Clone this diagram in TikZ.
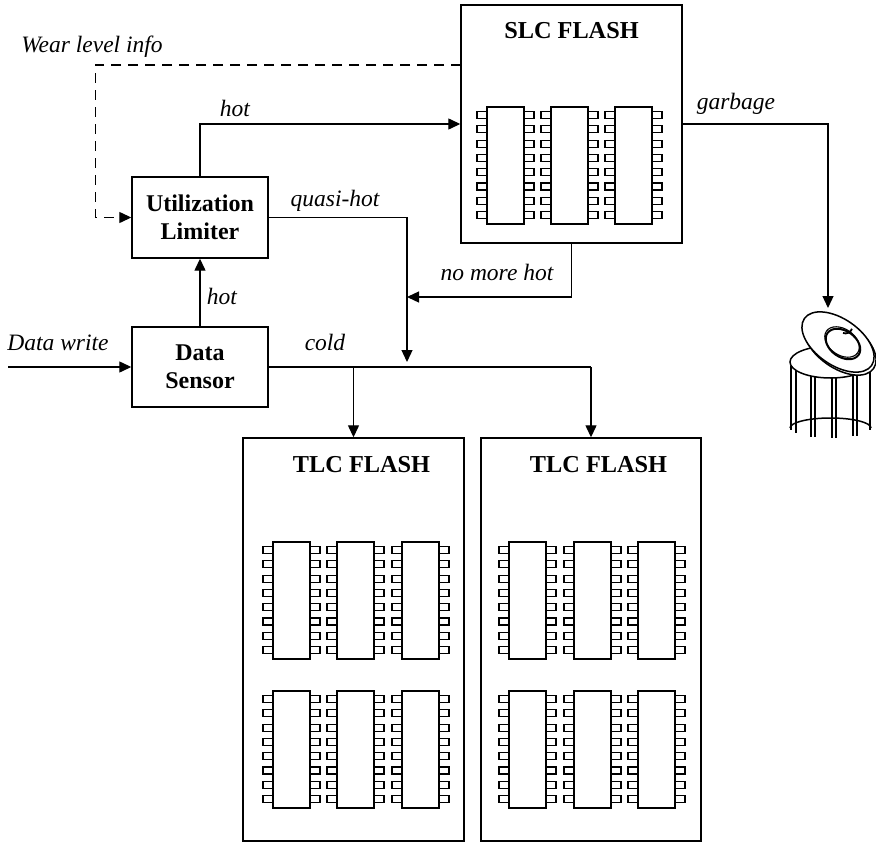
\documentclass[tikz,border=0pt]{standalone}
\usepackage{fontspec}
\setmainfont{Liberation Serif}
\usetikzlibrary{arrows.meta}
\usetikzlibrary{calc}

% one memory chip, #1,#2 = top left corner of its body
\newcommand{\chip}[2]{%
  \draw[chipbody] (#1,#2) rectangle ++(37,117);
  \foreach \k in {0,...,7} {
    \draw[chippin] ({#1-10},{#2+4.5+14.3*\k}) rectangle ++(10,7);
    \draw[chippin] ({#1+37},{#2+4.5+14.3*\k}) rectangle ++(10,7);
  }}

\begin{document}
\begin{tikzpicture}[x=1pt,y=-1pt,
    line width=1.3pt,
    flow/.style={-{Triangle[length=12pt,width=11pt]}},
    blk/.style={draw,line width=1.4pt,font=\fontsize{24}{28}\selectfont\bfseries,align=center,inner sep=0pt},
    flashbox/.style={draw,line width=1.4pt,inner sep=0pt},
    ttl/.style={font=\fontsize{24.3}{28}\selectfont\bfseries,anchor=base},
    lbl/.style={font=\fontsize{23.5}{28}\selectfont\itshape,anchor=base,inner sep=0pt},
    chipbody/.style={line width=1.4pt},
    chippin/.style={line width=1.2pt},
    bin/.style={line width=1.5pt}]
  \useasboundingbox (0,0) rectangle (876,843);

  % blocks
  \node[blk,minimum width=136pt,minimum height=81pt] (ul) at (200,217.5) {Utilization\\Limiter};
  \node[blk,minimum width=136pt,minimum height=80pt] (ds) at (200,367) {Data\\Sensor};
  \node[flashbox,minimum width=221pt,minimum height=238pt] (slc) at (571.5,124) {};
  \node[flashbox,minimum width=221pt,minimum height=403pt] (tlcL) at (353.5,639.5) {};
  \node[flashbox,minimum width=220pt,minimum height=403pt] (tlcR) at (591,639.5) {};
  \node[ttl] (slct) at (571.5,39) {SLC FLASH};
  \node[ttl] (tlcLt) at (361.5,472) {TLC FLASH};
  \node[ttl] (tlcRt) at (598.5,472) {TLC FLASH};

  % chips
  \foreach \cx in {487,551,615} {\chip{\cx}{107}}
  \foreach \cx in {273,337,402,509,574,638}
    \foreach \cy in {542,691} {\chip{\cx}{\cy}}

  % free ends and joints
  \coordinate (dw) at (8,367);
  \coordinate (wl) at (461,65);
  \coordinate (mg) at (407,362);
  \coordinate (nm) at (407,297);
  \coordinate (cend) at (tlcR.north |- ds.east);
  \coordinate (can) at (828,308);

  % connectors
  \draw[flow] (dw) -- (ds.west);
  \draw[flow] (ds.north) -- (ul.south);
  \draw[flow] (ul.north) |- (slc.west);
  \draw[flow,dashed,dash pattern=on 10pt off 7pt] (wl) -| ([xshift=-36pt]ul.west) -- (ul.west);
  \draw[flow] (ul.east) -| (mg);
  \draw[flow] (slc.south) |- (nm);
  \draw (ds.east) -- (cend);
  \draw[flow] (tlcL.north |- ds.east) -- (tlcL.north);
  \draw[flow] (cend) -- (tlcR.north);
  \draw[flow] (slc.east) -| (can);

  % labels
  \node[lbl] (l1) at (92,53) {Wear level info};
  \node[lbl] (l2) at (235,116) {hot};
  \node[lbl] (l3) at (335,206) {quasi-hot};
  \node[lbl] (l4) at (222,304) {hot};
  \node[lbl] (l5) at (58,350) {Data write};
  \node[lbl] (l6) at (325,350) {cold};
  \node[lbl] (l7) at (497,280) {no more hot};
  \node[lbl] (l8) at (736,110) {garbage};

  % trash can
  \foreach \sx in {791,796,811,815,832,836,853,857,870}
    \draw[bin] (\sx,{362+16*sqrt(1-((\sx-830.5)/40.5)^2)})
      -- (\sx,{428+10*sqrt(1-((\sx-830.5)/40.5)^2)});
  \draw[bin] (790,428) arc[start angle=180,end angle=360,x radius=40.5,y radius=10];
  \draw[bin] (830.5,362) ellipse[x radius=40.5,y radius=16];
  \draw[bin,fill=white,rotate around={-35:(840,345)}] (840,345) ellipse[x radius=41,y radius=23];
  \draw[bin,fill=white,rotate around={-35:(838,342)}] (838,342) ellipse[x radius=41,y radius=23];
  \draw[line width=2pt,rotate around={-35:(843,344)}] (843,344) ellipse[x radius=19,y radius=13];
  \draw[line width=1.1pt,rotate around={-35:(842,342)}] (842,342) ellipse[x radius=19,y radius=13];
  \draw[line width=1.8pt] (843,333) arc[start angle=110,end angle=20,radius=7];
\end{tikzpicture}
\end{document}
